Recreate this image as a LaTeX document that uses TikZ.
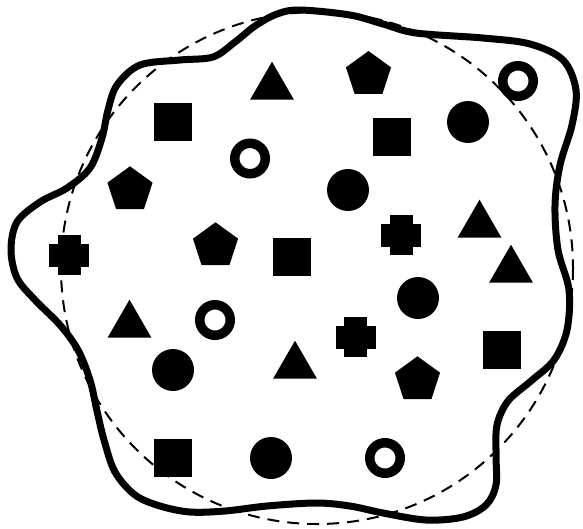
\documentclass[tikz,border=0pt]{standalone}
\usetikzlibrary{shapes.geometric}
\begin{document}
\begin{tikzpicture}[x=1pt,y=-1pt,
  tri/.style={regular polygon,regular polygon sides=3,minimum size=50.6pt,inner sep=0pt,fill=black},
  pent/.style={regular polygon,regular polygon sides=5,minimum size=47.4pt,inner sep=0pt,fill=black},
  sq/.style={rectangle,minimum size=38pt,inner sep=0pt,fill=black},
  dot/.style={circle,minimum size=42pt,inner sep=0pt,fill=black},
  ring/.style={circle,minimum size=30.5pt,inner sep=0pt,draw=black,line width=9.5pt},
  plusshape/.pic={\fill[black] (-20,-11.5) rectangle (20,11.5); \fill[black] (-11.5,-20) rectangle (11.5,20);},
  blob/.style={line width=7pt,line join=round},
  guide/.style={line width=2pt,dash pattern=on 12pt off 8pt}]
\useasboundingbox (0,0) rectangle (583,528);
% dashed circle
\draw[guide] (317,268) circle[radius=256];
% blob outline
\draw[blob] plot[smooth cycle,tension=0.55] coordinates {
(300,10) (350,15) (383,24) (416,33) (483,38) (530,44) (563,60) (576,90) (572,125)
(560,165) (555,205) (558,250) (569,290) (567,330) (554,360) (531,381) (508,401)
(497,425) (496,455) (496,485) (486,505) (463,517) (426,520) (383,513) (350,506)
(316,503) (267,506) (225,511) (190,512) (160,506) (135,495) (115,472) (104,440)
(97,411) (90,380) (78,350) (60,325) (35,300) (17,278) (11,250) (17,222) (40,202)
(67,188) (90,168) (102,138) (108,110) (117,85) (140,65) (180,60) (213,57) (235,42)
(255,26) (277,14)};
% triangles
\node[tri] (t1) at (272,87) {};
\node[tri] (t2) at (479.5,225) {};
\node[tri] (t3) at (511,270) {};
\node[tri] (t4) at (129.5,325) {};
\node[tri] (t5) at (295,366) {};
% pentagons
\node[pent] (p1) at (368.5,74.7) {};
\node[pent] (p2) at (130,190) {};
\node[pent] (p3) at (215.5,246) {};
\node[pent] (p4) at (417.5,380) {};
% squares
\node[sq] (s1) at (173,122) {};
\node[sq] (s2) at (392,137) {};
\node[sq] (s3) at (292,256.5) {};
\node[sq] (s4) at (502,350) {};
\node[sq] (s5) at (173,458) {};
% filled circles
\node[dot] (c1) at (468,122) {};
\node[dot] (c2) at (348,190) {};
\node[dot] (c3) at (418,298) {};
\node[dot] (c4) at (173,370) {};
\node[dot] (c5) at (271,458) {};
% rings
\node[ring] (r1) at (250,158.5) {};
\node[ring] (r2) at (518,81) {};
\node[ring] (r3) at (215,320) {};
\node[ring] (r4) at (385,458) {};
% crosses
\pic at (69,255) {plusshape};
\pic at (401,235) {plusshape};
\pic at (355.5,337) {plusshape};
\end{tikzpicture}
\end{document}
